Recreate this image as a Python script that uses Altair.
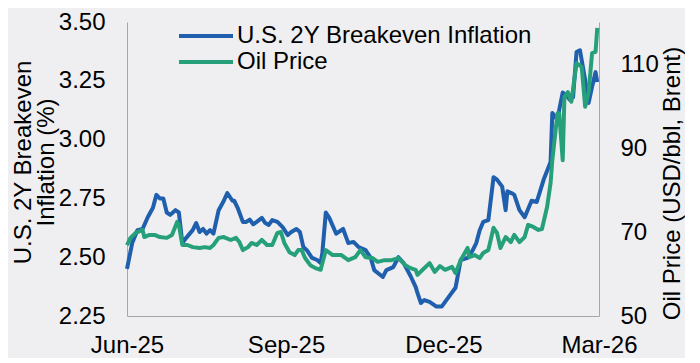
import altair as alt
import pandas as pd

SERIES = ["U.S. 2Y Breakeven Inflation", "Oil Price"]
COLORS = ["#1f5fad", "#26a07a"]
X_TICKS = ["2025-06-01", "2025-09-01", "2025-12-01", "2026-03-01"]
LEFT_TICKS = [2.25, 2.50, 2.75, 3.00, 3.25, 3.50]
RIGHT_TICKS = [50, 70, 90, 110]
LEFT_TITLE = ["U.S. 2Y Breakeven", "Inflation (%)"]
RIGHT_TITLE = "Oil Price (USD/bbl, Brent)"

BE_DATES = [
    "2025-06-01", "2025-06-04", "2025-06-07", "2025-06-10", "2025-06-13", "2025-06-16",
    "2025-06-18", "2025-06-20", "2025-06-22", "2025-06-24", "2025-06-26", "2025-06-29",
    "2025-07-01", "2025-07-03", "2025-07-05", "2025-07-09", "2025-07-11", "2025-07-13",
    "2025-07-15", "2025-07-17", "2025-07-19", "2025-07-21", "2025-07-24", "2025-07-27",
    "2025-07-29", "2025-08-01", "2025-08-02", "2025-08-04", "2025-08-07", "2025-08-09",
    "2025-08-11", "2025-08-13", "2025-08-15", "2025-08-18", "2025-08-20", "2025-08-22",
    "2025-08-24", "2025-08-27", "2025-08-30", "2025-09-02", "2025-09-04", "2025-09-07",
    "2025-09-09", "2025-09-11", "2025-09-13", "2025-09-16", "2025-09-19", "2025-09-21",
    "2025-09-22", "2025-09-24", "2025-09-26", "2025-09-30", "2025-10-04", "2025-10-07",
    "2025-10-10", "2025-10-13", "2025-10-17", "2025-10-20", "2025-10-22", "2025-10-27",
    "2025-10-29", "2025-11-02", "2025-11-05", "2025-11-08", "2025-11-12", "2025-11-15",
    "2025-11-16", "2025-11-18", "2025-11-20", "2025-11-23", "2025-11-27", "2025-11-30",
    "2025-12-04", "2025-12-08", "2025-12-11", "2025-12-15", "2025-12-18", "2025-12-20",
    "2025-12-22", "2025-12-24", "2025-12-27", "2025-12-30", "2026-01-01", "2026-01-04",
    "2026-01-06", "2026-01-07", "2026-01-10", "2026-01-11", "2026-01-14", "2026-01-17",
    "2026-01-21", "2026-01-24", "2026-01-28", "2026-02-01", "2026-02-02", "2026-02-05",
    "2026-02-06", "2026-02-08", "2026-02-10", "2026-02-12", "2026-02-14", "2026-02-16",
    "2026-02-18", "2026-02-21", "2026-02-23", "2026-02-25", "2026-02-27", "2026-02-28",
]
BE_VALUES = [
    2.45, 2.56, 2.615, 2.62, 2.67, 2.71,
    2.765, 2.75, 2.75, 2.69, 2.68, 2.70,
    2.69, 2.56, 2.58, 2.615, 2.645, 2.607,
    2.62, 2.60, 2.615, 2.60, 2.70, 2.74,
    2.773, 2.74, 2.74, 2.71, 2.65, 2.65,
    2.66, 2.64, 2.65, 2.667, 2.645, 2.637,
    2.658, 2.65, 2.628, 2.594, 2.607, 2.62,
    2.607, 2.543, 2.53, 2.497, 2.488, 2.475,
    2.52, 2.69, 2.667, 2.60, 2.62, 2.56,
    2.565, 2.543, 2.53, 2.497, 2.445, 2.416,
    2.445, 2.458, 2.50, 2.475, 2.42, 2.373,
    2.348, 2.305, 2.318, 2.31, 2.29, 2.29,
    2.33, 2.37, 2.488, 2.497, 2.53, 2.56,
    2.615, 2.65, 2.658, 2.84, 2.83, 2.80,
    2.70, 2.78, 2.77, 2.765, 2.70, 2.67,
    2.74, 2.735, 2.83, 2.905, 3.113, 3.083,
    3.126, 3.20, 3.19, 3.17, 3.18, 3.372,
    3.38, 3.253, 3.156, 3.224, 3.287, 3.245,
]

OIL_DATES = [
    "2025-06-01", "2025-06-03", "2025-06-06", "2025-06-10", "2025-06-11", "2025-06-14",
    "2025-06-17", "2025-06-20", "2025-06-24", "2025-06-27", "2025-06-30", "2025-07-01",
    "2025-07-03", "2025-07-06", "2025-07-09", "2025-07-13", "2025-07-16", "2025-07-19",
    "2025-07-21", "2025-07-24", "2025-07-27", "2025-07-28", "2025-07-31", "2025-08-03",
    "2025-08-05", "2025-08-07", "2025-08-10", "2025-08-12", "2025-08-15", "2025-08-18",
    "2025-08-21", "2025-08-24", "2025-08-27", "2025-08-29", "2025-08-31", "2025-09-03",
    "2025-09-06", "2025-09-08", "2025-09-10", "2025-09-12", "2025-09-15", "2025-09-18",
    "2025-09-21", "2025-09-24", "2025-09-28", "2025-10-03", "2025-10-07", "2025-10-11",
    "2025-10-14", "2025-10-17", "2025-10-21", "2025-10-24", "2025-10-28", "2025-11-01",
    "2025-11-05", "2025-11-09", "2025-11-12", "2025-11-15", "2025-11-16", "2025-11-19",
    "2025-11-23", "2025-11-26", "2025-11-29", "2025-12-02", "2025-12-06", "2025-12-08",
    "2025-12-11", "2025-12-15", "2025-12-16", "2025-12-19", "2025-12-22", "2025-12-24",
    "2025-12-27", "2025-12-30", "2026-01-01", "2026-01-03", "2026-01-06", "2026-01-09",
    "2026-01-11", "2026-01-14", "2026-01-17", "2026-01-19", "2026-01-22", "2026-01-25",
    "2026-01-27", "2026-01-30", "2026-02-01", "2026-02-02", "2026-02-05", "2026-02-06",
    "2026-02-08", "2026-02-09", "2026-02-11", "2026-02-13", "2026-02-16", "2026-02-19",
    "2026-02-21", "2026-02-23", "2026-02-25", "2026-02-27", "2026-02-28",
]
OIL_VALUES = [
    66.9, 68.6, 69.8, 70.5, 68.8, 69.3,
    69.3, 68.8, 68.6, 69.3, 72.4, 71.7,
    66.9, 66.9, 66.4, 66.2, 66.4, 66.2,
    66.9, 68.6, 68.8, 68.6, 68.1, 68.6,
    67.6, 65.7, 66.4, 67.4, 66.9, 68.1,
    66.9, 66.9, 69.8, 70.0, 67.4, 65.2,
    64.5, 65.7, 65.7, 63.8, 62.1, 61.4,
    61.0, 65.7, 64.5, 64.5, 63.3, 64.0,
    65.7, 64.0, 63.8, 62.9, 63.3, 63.3,
    63.8, 62.1, 61.4, 61.0, 59.8, 61.0,
    62.6, 60.5, 61.9, 61.0, 61.7, 60.2,
    63.3, 66.2, 64.0, 64.5, 63.8, 65.0,
    65.7, 71.0, 69.8, 66.2, 68.8, 67.6,
    69.3, 67.6, 68.8, 71.7, 71.2, 70.5,
    70.7, 76.0, 81.7, 87.1, 98.3, 98.3,
    87.1, 102.1, 103.3, 101.0, 110.2, 109.3,
    99.8, 103.3, 112.6, 112.9, 118.6,
]

be = pd.DataFrame({"date": BE_DATES, "value": BE_VALUES})
oil = pd.DataFrame({"date": OIL_DATES, "value": OIL_VALUES})

FONT = "Liberation Sans"
FS = 24


def dt(s):
    y, m, d = map(int, s.split("-"))
    return alt.DateTime(year=y, month=m, date=d, utc=True)


x_enc = alt.X(
    "date:T",
    scale=alt.Scale(type="utc", domain=[dt(X_TICKS[0]), dt(X_TICKS[-1])]),
    axis=alt.Axis(values=[dt(s) for s in X_TICKS], format="%b-%y", title=None,
                  labelPadding=17, labelFlush=False, labelOverlap=False),
)

left = alt.Chart(be).mark_line(color=COLORS[0], strokeWidth=4, strokeJoin="round").encode(
    x=x_enc,
    y=alt.Y("value:Q",
            scale=alt.Scale(domain=[LEFT_TICKS[0], LEFT_TICKS[-1]], nice=False, zero=False),
            axis=alt.Axis(values=LEFT_TICKS, format=".2f", title=LEFT_TITLE, orient="left",
                          labelPadding=22, titlePadding=0, titleLineHeight=23,
                          labelFlush=False, labelOverlap=False, titleY=140)),
)

right = alt.Chart(oil).mark_line(color=COLORS[1], strokeWidth=4, strokeJoin="round").encode(
    x=alt.X("date:T"),
    y=alt.Y("value:Q",
            scale=alt.Scale(domain=[50, 120], nice=False, zero=False),
            axis=alt.Axis(values=RIGHT_TICKS, format="d", title=RIGHT_TITLE, orient="right",
                          labelPadding=21, titlePadding=2, titleAngle=270,
                          titleBaseline="top",
                          labelFlush=False, labelOverlap=False, titleY=161)),
)

legend_df = pd.DataFrame({"series": SERIES})
legend_layers = []
for i in range(len(SERIES)):
    row = legend_df.iloc[[i]]
    legend_layers.append(
        alt.Chart(row).mark_rule(color=COLORS[i], strokeWidth=4).encode(
            x=alt.value(52), x2=alt.value(106), y=alt.value(14 + 26 * i))
    )
    legend_layers.append(
        alt.Chart(row).mark_text(align="left", baseline="middle", font=FONT,
                                 fontSize=FS, color="#000000").encode(
            x=alt.value(110), y=alt.value(14 + 26 * i), text="series:N")
    )

chart = alt.layer(left, right, *legend_layers).resolve_scale(y="independent").properties(
    width=472, height=294,
    background="#efeff1",
    padding={"left": 119, "top": 14, "right": 86, "bottom": 42},
    autosize=alt.AutoSizeParams(type="none"),
).configure_view(stroke=None).configure_axis(
    grid=False, ticks=False, tickSize=0,
    domainColor="#a6a6a6", domainWidth=1,
    labelFont=FONT, labelFontSize=FS, labelColor="#000000",
    titleFont=FONT, titleFontSize=FS, titleFontWeight="normal", titleColor="#000000",
)

chart.save("out.html", embed_options={"renderer": "svg", "actions": False})
